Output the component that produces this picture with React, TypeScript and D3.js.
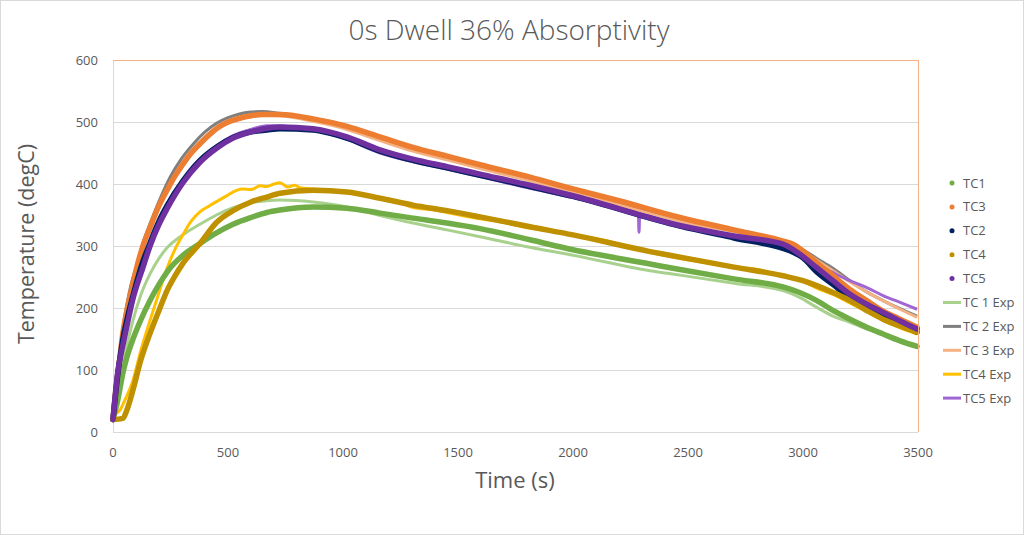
import React, {useEffect, useRef} from 'react';
import * as d3 from 'd3';

// Simulated thermocouples (marker series) and experimental curves, [time s, temp degC]
const tc1: [number, number][] = [
  [0, 20], [20, 50], [43, 95], [60, 120], [87, 150], [120, 180], [161, 212], [200, 238],
  [235, 258], [304, 285], [378, 304], [450, 321], [522, 335], [600, 346], [669, 354],
  [726, 358], [870, 363], [1017, 361], [1161, 353], [1304, 345], [1452, 337], [1596, 328],
  [1813, 310], [2000, 294], [2335, 271], [2465, 262], [2700, 247], [2913, 234],
  [2985, 225], [3060, 212], [3130, 196], [3204, 182], [3277, 169], [3348, 158], [3422, 147],
  [3496, 138],
];
const tc3: [number, number][] = [
  [0, 20], [17, 83], [30, 120], [43, 160], [60, 195], [87, 240], [110, 275], [130, 300],
  [161, 330], [200, 365], [235, 390], [270, 413], [304, 432], [340, 450], [378, 465],
  [420, 480], [452, 490], [500, 500], [550, 506], [600, 510], [650, 512], [726, 512],
  [870, 505], [1017, 493], [1161, 476], [1304, 459], [1452, 445], [1596, 431], [1813, 411],
  [2000, 392], [2200, 373], [2465, 346], [2700, 326], [2913, 308], [2957, 303], [3000, 292],
  [3060, 273], [3130, 252], [3204, 230], [3277, 212], [3348, 195], [3422, 182], [3496, 169],
];
const tc2: [number, number][] = [
  [0, 20], [20, 90], [43, 150], [60, 180], [87, 220], [130, 275], [161, 305], [200, 340],
  [235, 365], [304, 405], [378, 438], [452, 460], [522, 475], [600, 484], [669, 487],
  [726, 489], [870, 487], [940, 482], [1017, 474], [1161, 453], [1304, 438], [1452, 426],
  [1596, 414], [1813, 396], [2000, 380], [2465, 332], [2700, 313], [2913, 296], [2957, 290],
  [3000, 281], [3060, 258], [3130, 238], [3204, 217], [3277, 201], [3348, 187], [3422, 174],
  [3496, 161],
];
const tc4: [number, number][] = [
  [0, 20], [43, 22], [60, 35], [87, 68], [120, 115], [161, 159], [200, 196], [235, 228],
  [270, 252], [304, 272], [378, 304], [450, 338], [522, 357], [600, 371], [669, 379],
  [726, 385], [870, 390], [1017, 387], [1161, 377], [1304, 366], [1452, 357], [1596, 347],
  [1813, 331], [2000, 318], [2335, 291], [2465, 282], [2700, 266], [2913, 252], [3000, 244],
  [3060, 236], [3130, 225], [3204, 212], [3277, 196], [3348, 182], [3422, 171], [3496, 161],
];
const tc5: [number, number][] = [
  [0, 20], [20, 95], [43, 140], [60, 170], [87, 215], [130, 265], [161, 300], [200, 335],
  [235, 360], [304, 402], [378, 435], [452, 458], [522, 474], [600, 484], [669, 490],
  [726, 492], [870, 489], [940, 484], [1017, 476], [1161, 455], [1304, 440], [1452, 428],
  [1596, 416], [1813, 398], [2000, 381], [2465, 333], [2700, 316], [2913, 303], [2985, 287],
  [3060, 265], [3130, 244], [3204, 222], [3277, 206], [3348, 193], [3422, 179], [3496, 166],
];
const tc1Exp: [number, number][] = [
  [0, 20], [20, 70], [43, 110], [87, 180], [120, 220], [161, 255], [200, 280], [235, 297],
  [304, 318], [378, 335], [450, 350], [522, 362], [600, 370], [669, 373], [726, 374],
  [870, 371], [1017, 363], [1161, 349], [1304, 337], [1452, 326], [1596, 315], [1813, 298],
  [2000, 285], [2335, 260], [2465, 253], [2700, 240], [2913, 228], [2985, 217], [3060, 201],
  [3130, 187], [3204, 177], [3277, 166], [3348, 158], [3422, 148], [3496, 139],
];
const tc2Exp: [number, number][] = [
  [0, 20], [20, 95], [40, 160], [60, 205], [80, 240], [100, 265], [130, 305], [160, 335],
  [200, 372], [250, 412], [300, 442], [350, 465], [400, 484], [450, 498], [500, 507],
  [550, 513], [600, 516], [650, 517], [726, 514], [870, 506], [1017, 494], [1161, 476],
  [1304, 459], [1452, 444], [1596, 430], [1813, 408], [2000, 390], [2465, 343], [2913, 305],
  [3000, 294], [3060, 280], [3130, 264], [3204, 244], [3277, 226], [3348, 212], [3422, 199],
  [3496, 187],
];
const tc3Exp: [number, number][] = [
  [0, 20], [20, 90], [43, 160], [87, 235], [130, 295], [161, 325], [200, 362], [250, 402],
  [304, 432], [350, 455], [400, 474], [450, 488], [500, 498], [550, 505], [600, 509],
  [650, 511], [726, 510], [870, 501], [1017, 488], [1161, 470], [1304, 453], [1452, 439],
  [1596, 425], [1813, 405], [2000, 387], [2465, 340], [2913, 304], [3000, 292], [3060, 277],
  [3130, 260], [3204, 242], [3277, 226], [3348, 212], [3422, 198], [3496, 185],
];
const tc4Exp: [number, number][] = [
  [0, 28], [30, 35], [50, 50], [87, 83], [120, 130], [161, 180], [200, 225], [235, 264],
  [270, 295], [304, 318], [340, 340], [378, 355], [420, 365], [452, 372], [490, 380],
  [522, 387], [560, 392], [600, 391], [640, 397], [669, 396], [700, 400], [726, 402],
  [760, 395], [790, 398], [813, 394], [870, 392], [957, 390], [1017, 388], [1100, 382],
  [1161, 376], [1250, 370], [1304, 362], [1400, 358], [1452, 354], [1596, 344], [1700, 338],
  [1813, 329], [1900, 326], [2000, 317], [2100, 312], [2200, 303], [2335, 290], [2465, 280],
  [2600, 272], [2700, 266], [2800, 262], [2913, 252], [3000, 243], [3060, 232], [3130, 222],
  [3204, 208], [3277, 194], [3348, 180], [3422, 168], [3496, 158],
];
const tc5Exp: [number, number][] = [
  [0, 22], [20, 90], [43, 140], [87, 215], [130, 270], [161, 300], [200, 338], [235, 362],
  [304, 405], [378, 438], [452, 462], [522, 478], [600, 488], [669, 494], [750, 493],
  [870, 487], [1017, 472], [1161, 450], [1304, 436], [1452, 424], [1596, 412], [1813, 393],
  [2000, 378], [2200, 360], [2284, 352], [2287, 322], [2290, 351], [2465, 331], [2700, 316],
  [2913, 302], [3000, 285], [3060, 270], [3130, 257], [3204, 244], [3277, 233], [3348, 220],
  [3422, 209], [3496, 198],
];

const xTicks = [0, 500, 1000, 1500, 2000, 2500, 3000, 3500];
const yTicks = [0, 100, 200, 300, 400, 500, 600];

const simSeries = [
  {name: 'TC1', data: tc1, color: '#70AD47'},
  {name: 'TC3', data: tc3, color: '#ED7D31'},
  {name: 'TC2', data: tc2, color: '#002060'},
  {name: 'TC4', data: tc4, color: '#BF9000'},
  {name: 'TC5', data: tc5, color: '#7030A0'},
];
const expSeries = [
  {name: 'TC 1 Exp', data: tc1Exp, color: '#A9D18E'},
  {name: 'TC 2 Exp', data: tc2Exp, color: '#7F7F7F'},
  {name: 'TC 3 Exp', data: tc3Exp, color: '#F4B183'},
  {name: 'TC4 Exp', data: tc4Exp, color: '#FFC000'},
  {name: 'TC5 Exp', data: tc5Exp, color: '#A066D3'},
];

const W = 1024;
const H = 535;
const FONT = '"Open Sans", "Noto Sans", sans-serif';

export default function App() {
  const svgRef = useRef<SVGSVGElement>(null);

  useEffect(() => {
    if (!svgRef.current) return;
    const svg = d3.select(svgRef.current);
    svg.selectAll('*').remove();

    const left = 113, right = 918, top = 60, bottom = 432;
    const x = d3.scaleLinear().domain([0, 3500]).range([left, right]);
    const y = d3.scaleLinear().domain([0, 600]).range([bottom, top]);

    svg.append('rect').attr('x', 0.5).attr('y', 0.5).attr('width', W - 1).attr('height', H - 1)
      .attr('fill', '#fff').attr('stroke', '#D9D9D9');

    // gridlines
    svg.append('g').selectAll('line').data(yTicks.filter((d) => d > 0 && d < 600)).enter()
      .append('line')
      .attr('x1', left).attr('x2', right)
      .attr('y1', (d) => y(d) + 0.5).attr('y2', (d) => y(d) + 0.5)
      .attr('stroke', '#D9D9D9').attr('stroke-width', 1);

    // axes lines
    svg.append('line').attr('x1', left).attr('x2', right).attr('y1', bottom + 0.5).attr('y2', bottom + 0.5)
      .attr('stroke', '#D9D9D9');
    svg.append('line').attr('x1', left + 0.5).attr('x2', left + 0.5).attr('y1', top).attr('y2', bottom)
      .attr('stroke', '#D9D9D9');

    const line = d3.line<[number, number]>()
      .x((d) => x(d[0]))
      .y((d) => y(d[1]))
      .curve(d3.curveMonotoneX);

    const plot = svg.append('g');
    expSeries.forEach((s) => {
      plot.append('path').datum(s.data).attr('d', line).attr('fill', 'none')
        .attr('stroke', s.color).attr('stroke-width', 3).attr('stroke-linejoin', 'round');
    });
    simSeries.forEach((s) => {
      plot.append('path').datum(s.data).attr('d', line).attr('fill', 'none')
        .attr('stroke', s.color).attr('stroke-width', 5.5).attr('stroke-linejoin', 'round')
        .attr('stroke-linecap', 'round');
    });

    // plot area border (top / right)
    svg.append('line').attr('x1', left).attr('x2', right + 0.5).attr('y1', top + 0.5).attr('y2', top + 0.5)
      .attr('stroke', '#F4B183');
    svg.append('line').attr('x1', right + 0.5).attr('x2', right + 0.5).attr('y1', top).attr('y2', bottom)
      .attr('stroke', '#F4B183');

    // tick labels
    svg.append('g').selectAll('text').data(xTicks).enter().append('text')
      .attr('x', (d) => x(d)).attr('y', 457)
      .attr('text-anchor', 'middle').attr('font-size', 13).attr('fill', '#595959')
      .attr('font-family', FONT).text((d) => d);
    svg.append('g').selectAll('text').data(yTicks).enter().append('text')
      .attr('x', 98).attr('y', (d) => y(d) + 4.5)
      .attr('text-anchor', 'end').attr('font-size', 13).attr('fill', '#595959')
      .attr('font-family', FONT).text((d) => d);

    // titles
    svg.append('text').attr('x', 509).attr('y', 40).attr('text-anchor', 'middle')
      .attr('font-size', 28).attr('fill', '#595959').attr('font-family', FONT)
      .attr('font-weight', 300).text('0s Dwell 36% Absorptivity');
    svg.append('text').attr('x', 515).attr('y', 488).attr('text-anchor', 'middle')
      .attr('font-size', 22).attr('fill', '#595959').attr('font-family', FONT).text('Time (s)');
    svg.append('text').attr('transform', 'translate(34,244) rotate(-90)').attr('text-anchor', 'middle')
      .attr('font-size', 21.5).attr('fill', '#595959').attr('font-family', FONT)
      .text('Temperature (degC)');

    // legend
    const leg = svg.append('g');
    const all = [...simSeries.map((s) => ({...s, sim: true})), ...expSeries.map((s) => ({...s, sim: false}))];
    all.forEach((s, i) => {
      const ly = 183 + i * 23.9;
      if (s.sim) {
        leg.append('circle').attr('cx', 952).attr('cy', ly).attr('r', 2.5).attr('fill', s.color);
      } else {
        leg.append('line').attr('x1', 943).attr('x2', 961).attr('y1', ly).attr('y2', ly)
          .attr('stroke', s.color).attr('stroke-width', 3);
      }
      leg.append('text').attr('x', 963).attr('y', ly + 4.5).attr('font-size', 13)
        .attr('fill', '#595959').attr('font-family', FONT).text(s.name);
    });
  }, []);

  return (
    <div style={{position: 'absolute', left: 0, top: 0}}>
      <svg ref={svgRef} width={W} height={H} />
    </div>
  );
}
